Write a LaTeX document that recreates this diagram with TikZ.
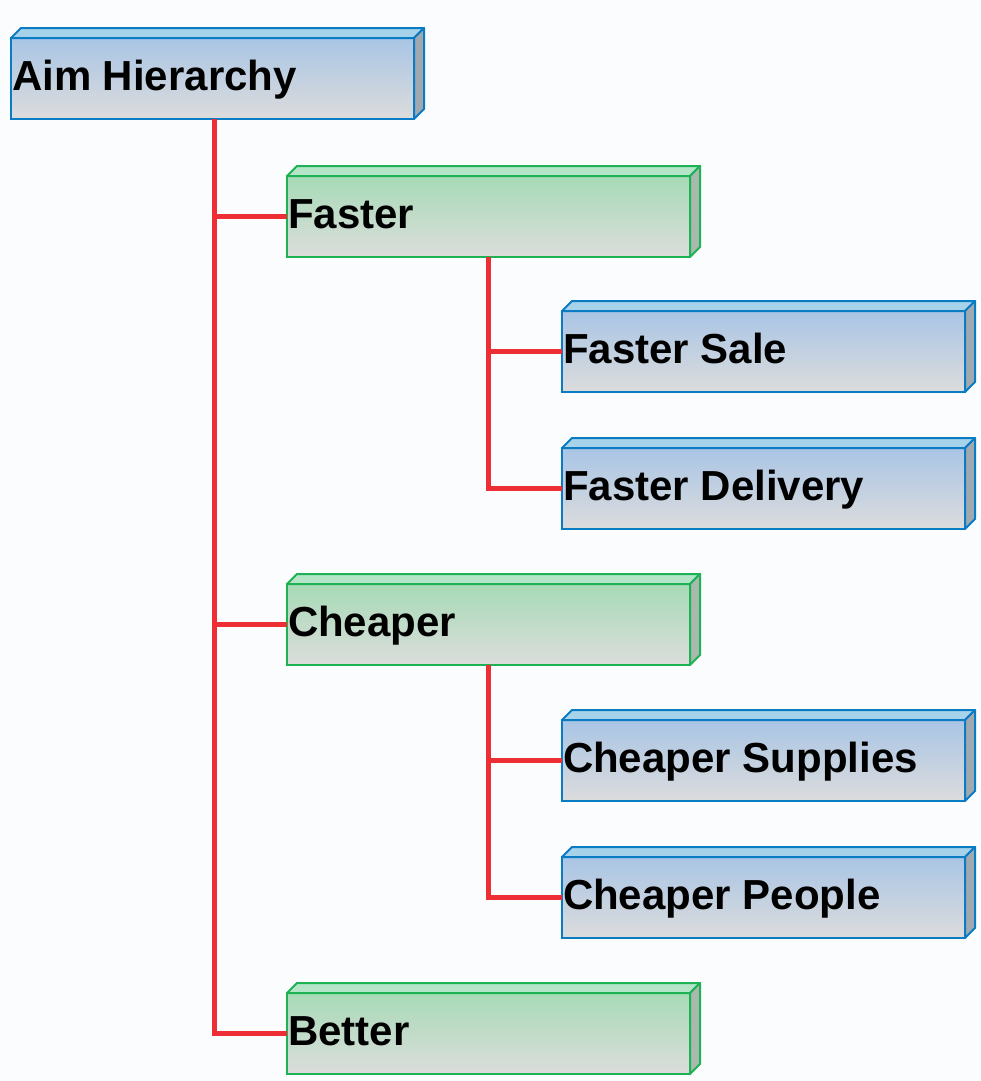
\documentclass[tikz,border=0pt]{standalone}
\usepackage{fontspec}
\setmainfont{Liberation Sans}
\definecolor{bgc}{HTML}{FBFCFE}
\definecolor{blueTop}{HTML}{A9C5E5}
\definecolor{blueBot}{HTML}{DCDCDC}
\definecolor{blueBorder}{HTML}{0A7CC4}
\definecolor{blueTopFace}{HTML}{A6D2EA}
\definecolor{blueSide}{HTML}{A0A8B0}
\definecolor{greenTop}{HTML}{A7DBB6}
\definecolor{greenBot}{HTML}{DCDCDC}
\definecolor{greenBorder}{HTML}{1DB254}
\definecolor{greenTopFace}{HTML}{B5E5C8}
\definecolor{greenSide}{HTML}{A9B9AE}
\definecolor{redline}{HTML}{EE2E35}
\tikzset{
  frontblue/.style={rectangle, draw=blueBorder, line width=2bp, top color=blueTop, bottom color=blueBot, minimum width=403bp, minimum height=81bp, inner sep=0pt, outer sep=0pt},
  frontgreen/.style={rectangle, draw=greenBorder, line width=2bp, top color=greenTop, bottom color=greenBot, minimum width=403bp, minimum height=81bp, inner sep=0pt, outer sep=0pt},
  topblue/.style={fill=blueTopFace, draw=blueBorder, line width=2bp, line join=round},
  sideblue/.style={fill=blueSide, draw=blueBorder, line width=2bp, line join=round},
  topgreen/.style={fill=greenTopFace, draw=greenBorder, line width=2bp, line join=round},
  sidegreen/.style={fill=greenSide, draw=greenBorder, line width=2bp, line join=round},
  lbl/.style={font=\fontsize{42bp}{50bp}\selectfont\bfseries, inner sep=0pt, outer sep=0pt, text=black},
  conn/.style={draw=redline, line width=5bp}
}
\newcommand\mkbox[5]{%
  \node[front#1, anchor=north west] (#2) at (#3,#4) {};
  \filldraw[top#1] (#2.north west) -- ++(10,-10) -- ++(403,0) -- (#2.north east) -- cycle;
  \filldraw[side#1] (#2.north east) -- ++(10,-10) -- ++(0,81) -- (#2.south east) -- cycle;
  \node[lbl, anchor=base west] (#2-t) at ([xshift=1bp,yshift=-52bp]#2.north west) {#5};
}
\begin{document}
\begin{tikzpicture}[x=1bp,y=-1bp]
  \fill[bgc] (0,0) rectangle (981,1081);
  \useasboundingbox (0,0) rectangle (981,1081);
  \mkbox{blue}{aim}{11}{38}{Aim Hierarchy}
  \mkbox{green}{faster}{287}{176}{Faster}
  \mkbox{blue}{fsale}{562}{311}{Faster Sale}
  \mkbox{blue}{fdel}{562}{448}{Faster Delivery}
  \mkbox{green}{cheaper}{287}{584}{Cheaper}
  \mkbox{blue}{csup}{562}{720}{Cheaper Supplies}
  \mkbox{blue}{cpeo}{562}{857}{Cheaper People}
  \mkbox{green}{better}{287}{993}{Better}
  \draw[conn] ([xshift=1.5bp]aim.south) -- ([xshift=1.5bp]aim.south |- better.west) -- (better.west);
  \draw[conn] ([xshift=1.5bp]aim.south |- faster.west) -- (faster.west);
  \draw[conn] ([xshift=1.5bp]aim.south |- cheaper.west) -- (cheaper.west);
  \draw[conn] (faster.south) -- (faster.south |- fdel.west) -- (fdel.west);
  \draw[conn] (faster.south |- fsale.west) -- (fsale.west);
  \draw[conn] (cheaper.south) -- (cheaper.south |- cpeo.west) -- (cpeo.west);
  \draw[conn] (cheaper.south |- csup.west) -- (csup.west);
\end{tikzpicture}
\end{document}
